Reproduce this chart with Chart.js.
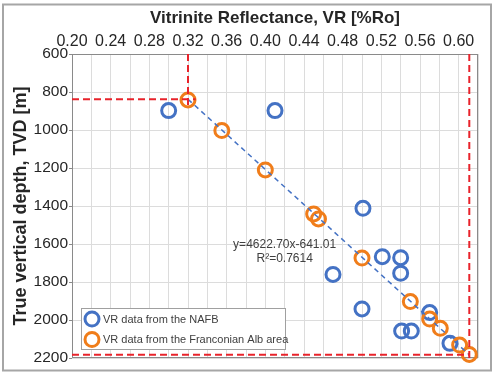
<!DOCTYPE html>
<html>
<head>
<meta charset="utf-8">
<script src="https://cdn.jsdelivr.net/npm/chart.js@4.4.0/dist/chart.umd.min.js"></script>
<style>
  html, body { margin: 0; padding: 0; background: #fff; }
  #wrap { width: 500px; height: 377px; }
</style>
</head>
<body>
<div id="wrap"><canvas id="vrChart" width="500" height="377"></canvas></div>
<script>
// tick labels
const xTickLabels = ['0.20', '0.24', '0.28', '0.32', '0.36', '0.40', '0.44', '0.48', '0.52', '0.56', '0.60'];
const yTickLabels = ['600', '800', '1000', '1200', '1400', '1600', '1800', '2000', '2200'];

// VR data from the NAFB
const nafbVR  = [0.300, 0.410, 0.501, 0.521, 0.540, 0.540, 0.470, 0.500, 0.570, 0.541, 0.551, 0.591];
const nafbTVD = [898, 898, 1412, 1667, 1672, 1754, 1760, 1942, 1961, 2058, 2058, 2123];

// VR data from the Franconian Alb area
const albVR  = [0.320, 0.355, 0.400, 0.450, 0.455, 0.500, 0.550, 0.570, 0.581, 0.601, 0.611];
const albTVD = [842, 1003, 1210, 1442, 1468, 1674, 1903, 1995, 2044, 2132, 2181];

// linear trend (end points) + the text Excel put next to it
const trendVR  = [0.32, 0.611];
const trendTVD = [838, 2183];
const trendText = ['y=4622.70x-641.01', 'R\u00b2=0.7614'];

// red guide lines
const guideTopVR = [0.32, 0.32],   guideTopTVD = [600, 885];
const guideLeftVR = [0.20, 0.328], guideLeftTVD = [838, 838];
const guideRightVR = [0.611, 0.611], guideRightTVD = [600, 2200];
const guideBotVR = [0.20, 0.611],  guideBotTVD = [2183, 2183];

const BLUE = '#4472C4';
const ORANGE = '#F07D1A';
const RED = '#E8232B';
const FONT = "'Liberation Sans', Arial, sans-serif";

function pts(xs, ys) {
    return xs.map((x, i) => ({ x: x, y: ys[i] }));
}

function guide(xs, ys) {
    return {
        type: 'line',
        data: pts(xs, ys),
        borderColor: RED,
        borderWidth: 2,
        borderDash: [7, 4],
        pointRadius: 0,
        fill: false,
        order: -1
    };
}

const decor = {
    id: 'decor',
    beforeDraw(chart) {
        const ctx = chart.ctx;
        ctx.save();
        ctx.fillStyle = '#fff';
        ctx.fillRect(0, 0, chart.width, chart.height);
        ctx.strokeStyle = '#a6a6a6';
        ctx.lineWidth = 2;
        ctx.strokeRect(3, 4.5, 488, 366);
        ctx.restore();
    },
    beforeDatasetsDraw(chart) {
        // plot frame (under the marks, like Excel)
        const ctx = chart.ctx;
        const a = chart.chartArea;
        ctx.save();
        ctx.strokeStyle = '#8a8a8a';
        ctx.lineWidth = 1;
        ctx.strokeRect(a.left + 0.5, a.top + 0.5, a.right - a.left - 1, a.bottom - a.top - 1);
        ctx.restore();
    },
    afterDraw(chart) {
        const ctx = chart.ctx;
        const xs = chart.scales.x, ys = chart.scales.y;
        ctx.save();
        // trend equation
        ctx.fillStyle = '#404040';
        ctx.font = '12px ' + FONT;
        ctx.textAlign = 'center';
        ctx.textBaseline = 'middle';
        ctx.fillText(trendText[0], xs.getPixelForValue(0.42), ys.getPixelForValue(1605));
        ctx.fillText(trendText[1], xs.getPixelForValue(0.42), ys.getPixelForValue(1678));

        // legend box
        ctx.fillStyle = '#fff';
        ctx.fillRect(81, 308, 205, 42);
        ctx.strokeStyle = '#a0a0a0';
        ctx.lineWidth = 1;
        ctx.strokeRect(81.5, 308.5, 204, 41);
        const items = [chart.data.datasets[0], chart.data.datasets[1]];
        items.forEach((ds, i) => {
            const cy = 319 + i * 20.5;
            ctx.beginPath();
            ctx.arc(92, cy, 7, 0, Math.PI * 2);
            ctx.strokeStyle = ds.borderColor;
            ctx.lineWidth = 3;
            ctx.stroke();
            ctx.fillStyle = '#404040';
            ctx.font = '11px ' + FONT;
            ctx.textAlign = 'left';
            ctx.fillText(ds.label, 103, cy + 0.5);
        });
        ctx.restore();
    }
};

new Chart(document.getElementById('vrChart'), {
    type: 'scatter',
    data: {
        datasets: [
            {
                label: 'VR data from the NAFB',
                data: pts(nafbVR, nafbTVD),
                borderColor: BLUE,
                backgroundColor: 'rgba(0,0,0,0)',
                borderWidth: 3,
                pointRadius: 7,
                clip: false,
                order: 2
            },
            {
                label: 'VR data from the Franconian Alb area',
                data: pts(albVR, albTVD),
                borderColor: ORANGE,
                backgroundColor: 'rgba(0,0,0,0)',
                borderWidth: 3,
                pointRadius: 7,
                clip: false,
                order: 1
            },
            {
                type: 'line',
                label: 'trend',
                data: pts(trendVR, trendTVD),
                borderColor: BLUE,
                borderWidth: 1.5,
                borderDash: [5, 4],
                pointRadius: 0,
                fill: false,
                order: 0
            },
            guide(guideTopVR, guideTopTVD),
            guide(guideLeftVR, guideLeftTVD),
            guide(guideRightVR, guideRightTVD),
            guide(guideBotVR, guideBotTVD)
        ]
    },
    options: {
        responsive: false,
        animation: false,
        devicePixelRatio: 1,
        layout: { padding: { left: 0, top: 0, right: 22, bottom: 19 } },
        plugins: {
            legend: { display: false },
            tooltip: { enabled: false }
        },
        scales: {
            x: {
                type: 'linear',
                position: 'top',
                min: 0.2,
                max: 0.62,
                afterFit: (s) => { s.height = 54; },
                grid: { color: '#dcdcdc', drawTicks: false },
                border: { display: false },
                ticks: {
                    stepSize: 0.02,
                    padding: 3,
                    maxRotation: 0,
                    autoSkip: false,
                    color: '#262626',
                    font: { family: FONT, size: 16 },
                    callback: (v) => {
                        const t = v.toFixed(2);
                        return xTickLabels.includes(t) ? t : '';
                    }
                },
                title: {
                    display: true,
                    text: 'Vitrinite Reflectance, VR [%Ro]',
                    color: '#262626',
                    font: { family: FONT, size: 17, weight: 'bold' },
                    padding: { top: 8, bottom: 0 }
                }
            },
            y: {
                type: 'linear',
                reverse: true,
                min: 600,
                max: 2200,
                afterFit: (s) => { s.width = 72; },
                grid: {
                    color: '#dcdcdc',
                    tickColor: '#8a8a8a',
                    tickLength: 3
                },
                border: { display: false },
                ticks: {
                    stepSize: 200,
                    padding: 1,
                    color: '#262626',
                    font: { family: FONT, size: 15.5 },
                    callback: (v) => yTickLabels.includes(String(v)) ? String(v) : ''
                },
                title: {
                    display: true,
                    text: 'True vertical depth, TVD [m]',
                    color: '#262626',
                    font: { family: FONT, size: 18, weight: 'bold' },
                    padding: { top: 10, bottom: 0 }
                }
            }
        }
    },
    plugins: [decor]
});
</script>
</body>
</html>
